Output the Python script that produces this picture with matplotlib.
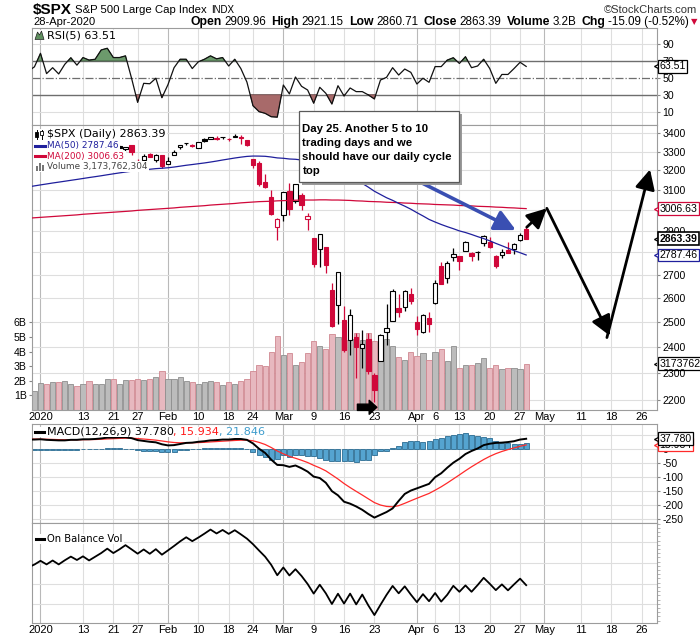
import numpy as np
import matplotlib.pyplot as plt
from matplotlib.patches import Rectangle, Polygon
from matplotlib.lines import Line2D
from matplotlib.transforms import blended_transform_factory as blend
from matplotlib.ticker import NullLocator

plt.rcParams['font.family'] = ['Liberation Sans', 'DejaVu Sans']

# ---- data: trading days from 2 Jan 2020 (index 0) to 28 Apr 2020 (index 80)
opens = [3244.67, 3226.36, 3217.55, 3241.86, 3238.59, 3266.03, 3281.81, 3271.13, 3285.35, 3282.27,
         3302.97, 3323.66, 3321.03, 3330.02, 3315.77, 3333.10, 3247.16, 3255.35, 3289.46, 3256.45,
         3282.33, 3235.66, 3280.61, 3324.91, 3344.92, 3335.54, 3318.28, 3365.87, 3370.50, 3365.90,
         3378.08, 3369.04, 3380.39, 3380.45, 3360.50, 3257.61, 3238.94, 3139.90, 3062.54, 2916.90,
         2974.28, 3096.46, 3045.75, 3075.70, 2954.20, 2863.89, 2813.48, 2825.60, 2630.86, 2569.99,
         2508.59, 2425.66, 2436.50, 2393.48, 2431.94, 2290.71, 2344.44, 2457.77, 2501.29, 2555.87,
         2558.98, 2614.69, 2498.08, 2458.54, 2514.92, 2578.28, 2738.65, 2685.00, 2776.99, 2782.46,
         2805.10, 2795.64, 2799.34, 2842.43, 2845.62, 2784.81, 2787.89, 2810.42, 2812.64, 2854.65,
         2909.96]
highs = [3258.14, 3246.15, 3246.84, 3244.91, 3267.07, 3275.58, 3282.99, 3288.13, 3294.25, 3298.66,
         3317.11, 3329.88, 3329.79, 3337.77, 3326.88, 3333.18, 3258.85, 3285.78, 3293.47, 3285.91,
         3282.33, 3268.44, 3306.92, 3337.58, 3347.96, 3341.42, 3352.26, 3375.63, 3381.47, 3385.09,
         3380.69, 3375.01, 3393.52, 3389.15, 3360.76, 3259.81, 3246.99, 3182.51, 3097.07, 2959.72,
         3090.96, 3136.72, 3130.97, 3083.04, 2985.93, 2863.89, 2882.59, 2825.60, 2660.95, 2711.33,
         2562.98, 2553.93, 2453.57, 2466.97, 2453.01, 2300.73, 2449.71, 2571.42, 2637.01, 2615.91,
         2631.80, 2641.39, 2522.75, 2533.22, 2538.18, 2676.85, 2756.89, 2760.75, 2818.57, 2782.46,
         2851.85, 2801.88, 2806.51, 2879.22, 2868.98, 2785.54, 2815.10, 2844.90, 2842.71, 2887.72,
         2921.15]
lows = [3235.53, 3222.34, 3214.64, 3232.43, 3236.67, 3263.67, 3260.86, 3268.43, 3277.19, 3280.69,
        3302.82, 3318.86, 3316.61, 3320.04, 3301.87, 3281.53, 3234.50, 3253.22, 3271.89, 3242.80,
        3214.68, 3235.66, 3280.61, 3313.75, 3334.39, 3322.12, 3317.77, 3352.72, 3369.72, 3360.52,
        3366.15, 3355.61, 3378.83, 3341.02, 3328.45, 3214.65, 3118.77, 3108.99, 2977.39, 2855.84,
        2945.19, 2976.63, 3034.38, 2999.83, 2901.54, 2734.43, 2734.00, 2707.22, 2478.86, 2492.37,
        2380.94, 2367.04, 2280.52, 2319.78, 2295.56, 2191.86, 2344.44, 2407.53, 2500.72, 2520.02,
        2545.28, 2571.15, 2447.49, 2455.79, 2459.96, 2574.57, 2657.67, 2663.30, 2762.36, 2721.17,
        2805.10, 2761.54, 2764.32, 2830.88, 2820.43, 2727.10, 2775.95, 2794.26, 2791.76, 2852.89,
        2860.71]
closes = [3257.85, 3234.85, 3246.28, 3237.18, 3253.05, 3274.70, 3265.35, 3288.13, 3283.15, 3289.29,
          3316.81, 3329.62, 3320.79, 3321.75, 3325.54, 3295.47, 3243.63, 3276.24, 3273.40, 3283.66,
          3225.52, 3248.92, 3297.59, 3334.69, 3345.78, 3327.71, 3352.09, 3357.75, 3379.45, 3373.94,
          3380.16, 3370.29, 3386.15, 3373.23, 3337.75, 3225.89, 3128.21, 3116.39, 2978.76, 2954.22,
          3090.23, 3003.37, 3130.12, 3023.94, 2972.37, 2746.56, 2882.23, 2741.38, 2480.64, 2711.02,
          2386.13, 2529.19, 2398.10, 2409.39, 2304.92, 2237.40, 2447.33, 2475.56, 2630.07, 2541.47,
          2626.65, 2584.59, 2470.50, 2526.90, 2488.65, 2663.68, 2659.41, 2749.98, 2789.82, 2761.63,
          2846.06, 2783.36, 2799.55, 2874.56, 2823.16, 2736.56, 2799.31, 2797.80, 2836.74, 2878.48,
          2863.39]
prev_close = 3230.78  # 31 Dec 2019
prev_prev_close = 3221.29  # 30 Dec 2019

# volume in billions, from 31 Dec 2019 (index -1)
volume = [1.3, 1.82, 1.75, 1.9, 1.9, 2.0, 1.8, 1.65, 1.78, 2.0, 1.8, 1.8, 2.15, 2.15, 1.8, 2.05,
          2.05, 2.1, 2.05, 2.1, 2.25, 2.7, 2.1, 2.15, 2.25, 2.0, 1.9, 1.75, 1.9, 2.0, 1.9, 1.7,
          1.9, 1.78, 2.0, 2.1, 2.7, 3.1, 3.0, 3.95, 5.1, 3.8, 3.9, 3.05, 3.3, 3.9, 4.7, 4.35,
          4.2, 5.2, 5.0, 4.8, 4.85, 5.25, 4.8, 5.3, 4.7, 5.0, 4.85, 4.35, 3.6, 3.4, 4.0, 3.7,
          3.9, 3.45, 4.0, 4.2, 3.35, 4.35, 2.9, 3.1, 3.1, 3.25, 3.55, 2.9, 3.1, 2.8, 2.9, 2.9,
          2.8, 3.17]

# indicator series from 30 Dec 2019 (index -2)
ma50 = [3115.3, 3120.2, 3125.2, 3130.0, 3134.9, 3139.4, 3144.0, 3148.7, 3153.3, 3158.1, 3163.0,
        3167.5, 3172.2, 3177.3, 3182.2, 3187.0, 3191.6, 3195.8, 3198.8, 3202.5, 3206.0, 3209.3,
        3211.3, 3213.9, 3217.7, 3222.3, 3227.0, 3230.9, 3235.1, 3239.2, 3244.0, 3249.2, 3254.9,
        3260.1, 3265.4, 3270.0, 3274.0, 3275.9, 3275.6, 3274.6, 3270.8, 3266.0, 3264.0, 3260.2,
        3258.7, 3254.8, 3249.7, 3240.2, 3233.0, 3223.1, 3208.3, 3197.9, 3180.4, 3166.3, 3149.4,
        3132.8, 3113.8, 3093.1, 3076.7, 3060.5, 3047.4, 3032.5, 3018.7, 3003.8, 2986.8, 2970.9,
        2954.1, 2941.5, 2929.8, 2919.3, 2909.6, 2899.2, 2891.6, 2882.3, 2872.3, 2863.1, 2852.6,
        2840.8, 2829.8, 2818.6, 2807.7, 2797.8, 2787.46]
ma200 = [2960, 2962, 2964, 2966, 2968, 2970, 2972, 2974, 2976, 2979, 2981, 2983, 2985, 2987, 2989,
         2991, 2993, 2995, 2998, 3000, 3002, 3004, 3006, 3008, 3010, 3013, 3015, 3017, 3019, 3021,
         3024, 3026, 3028, 3030, 3032, 3035, 3037, 3039, 3041, 3042, 3043, 3045, 3046, 3047, 3048,
         3049, 3049, 3049, 3050, 3050, 3049, 3049, 3048, 3047, 3045, 3044, 3042, 3041, 3040, 3038,
         3037, 3036, 3034, 3033, 3031, 3030, 3029, 3027, 3026, 3025, 3024, 3022, 3021, 3020, 3018,
         3017, 3016, 3014, 3013, 3011, 3010, 3008, 3006.63]
rsi5 = [58, 63, 79, 55, 62, 54.6, 66, 73.8, 65, 74, 71, 72, 83, 85, 74, 74, 76, 49.5, 21, 43.5,
        43, 49.5, 26.5, 42, 62, 72, 72, 61, 69, 72, 76, 72.5, 74, 64, 72, 61, 45, 17, 10, 8, 4,
        3.5, 41.5, 31, 51, 40, 35.6, 20, 38.8, 31.7, 19, 40.7, 28.5, 38, 33.7, 33.7, 29.8, 25,
        47.4, 50.6, 62, 53.3, 60.4, 56.5, 42.7, 49.5, 44.7, 63.3, 63.3, 71, 73.8, 67, 75, 62, 64,
        72, 61, 43.5, 54, 54, 61, 68.4, 63.51]
macd = [35, 35, 36, 34, 33, 32, 32, 34, 34, 36, 36, 37, 39, 42, 42, 43, 43, 40, 33, 30, 27, 25,
        18, 14, 15, 19, 23, 24, 27, 29, 32, 33, 35, 35, 37, 37, 34, 21, 2, -13, -37, -56, -57,
        -63, -58, -68, -80, -98, -103, -120, -150, -165, -188, -195, -205, -217, -232, -245,
        -235, -225, -212, -185, -160, -148, -140, -132, -124, -100, -86, -66, -48, -34, -17, -6,
        3, 15, 20, 23, 24, 26, 29, 35, 37.78]
signal = [37.0, 36.6, 36.5, 36.0, 35.4, 34.7, 34.2, 34.1, 34.1, 34.5, 34.8, 35.2, 36.0, 37.2,
          38.1, 39.1, 39.9, 39.9, 38.5, 36.8, 34.9, 32.9, 29.9, 26.7, 24.4, 23.3, 23.2, 23.4,
          24.1, 25.1, 26.5, 27.8, 29.2, 30.4, 31.7, 32.8, 33.0, 30.6, 24.9, 17.3, 6.5, -6.0,
          -16.2, -25.6, -32.1, -39.3, -47.4, -57.5, -66.6, -77.3, -91.8, -106.5, -122.8, -137.2,
          -150.8, -164.0, -177.6, -191.1, -199.9, -204.9, -206.3, -202.1, -193.7, -184.5,
          -175.6, -166.9, -158.3, -146.7, -134.5, -120.8, -106.3, -91.8, -76.9, -62.7, -49.5,
          -36.6, -25.3, -15.6, -7.7, -1.0, 5.0, 11.0, 15.93]
hist = [-1, -1, -1, -2, -2, -2, -2, -1, -1, 1, 1, 1, 2, 3, 3, 3, 2, 0, -4, -6, -7, -7, -9, -9,
        -8, -4, -1, 1, 2, 3, 4, 4, 4, 4, 4, 3, 1, -8, -19, -27, -37, -33, -19, -27, -21, -21,
        -25, -25, -30, -40, -43, -43, -43, -43, -45, -40, -40, -20, -5, -5, 6, 13, 27, 31, 29,
        28, 29, 36, 40, 47, 53, 54, 57, 52, 47, 45, 40, 29, 24, 22, 18, 20, 21.85]
obv = [100.00, 101.30, 103.12, 101.37, 103.27, 101.37, 103.37, 105.17, 103.52, 105.30, 103.30,
       105.10, 106.90, 109.05, 106.90, 108.70, 110.75, 108.70, 106.60, 108.65, 106.55, 108.80,
       106.10, 108.20, 110.35, 112.60, 114.60, 112.70, 114.45, 116.35, 118.35, 116.45, 118.15,
       116.25, 118.03, 116.03, 113.93, 111.23, 108.13, 105.13, 101.18, 96.08, 99.88, 95.98,
       99.03, 95.73, 91.83, 87.13, 91.48, 87.28, 82.08, 87.08, 82.28, 87.13, 81.88, 86.68,
       81.38, 76.68, 81.68, 86.53, 90.88, 87.28, 90.68, 86.68, 82.98, 86.88, 83.43, 87.43,
       83.23, 86.58, 90.93, 88.03, 91.13, 88.03, 91.28, 94.83, 91.93, 88.83, 91.63, 88.73,
       91.63, 94.43, 91.26]

tick_pos = [0, 7, 12, 16, 21, 26, 31, 35, 40, 45, 50, 55, 62, 65, 69, 74, 79, 83, 89, 94, 99]
tick_lab = ['2020', '13', '21', '27', 'Feb', '10', '18', '24', 'Mar', '9', '16', '23',
            'Apr', '6', '13', '20', '27', 'May', '11', '18', '26']
months = {'2020', 'Feb', 'Mar', 'Apr', 'May'}
price_ticks = [2200, 2300, 2400, 2500, 2600, 2700, 2800, 2900, 3000, 3100, 3200, 3300, 3400]
# 2800 and 3000 sit under the value tags on the right
price_labels = ['2200', '2300', '2400', '2500', '2600', '2700', '', '2900', '', '3100', '3200',
                '3300', '3400']

RED = '#d0083a'
NAVY = '#1f1f9c'
GRID = '#dedede'
MGRID = '#b9b9b9'

W, H = 700, 639
fig = plt.figure(figsize=(7, 6.39), dpi=100)


def fx(px):
    return px / W


def fy(py):
    return 1 - py / H


L, R = 32.3, 656.7


def panel(top, bottom):
    return fig.add_axes([fx(L), fy(bottom), (R - L) / W, (bottom - top) / H])


ax_rsi = panel(28.3, 124.5)
ax = panel(124.5, 410)
ax_macd = panel(424.3, 523.3)
ax_obv = panel(523.3, 622.7)

x_line = np.arange(len(ma50)) - 2
x_c = np.arange(len(closes))
x_v = np.arange(len(volume)) - 1


def style(a, grid_ax=None):
    a.set_xlim(-1.35, 101.5)
    for s in a.spines.values():
        s.set_color('#9c9c9c')
        s.set_linewidth(0.8)
    g = grid_ax if grid_ax is not None else a
    for t, lab in zip(tick_pos, tick_lab):
        g.axvline(t, color=MGRID if lab in months else GRID, lw=0.8, zorder=0)
    a.set_xticks(tick_pos)
    a.set_xticklabels(tick_lab)
    a.tick_params(axis='x', length=0, labelbottom=False, labelsize=8, pad=1.5)
    a.yaxis.tick_right()
    a.tick_params(axis='y', which='both', length=2.5, pad=1.5, labelsize=7.6, color='#888888')
    for lab in a.get_xticklabels():
        if lab.get_text() in months:
            lab.set_fontweight('bold')


# ---- RSI panel
style(ax_rsi)
ax_rsi.set_ylim(-5.2, 108.6)
ax_rsi.set_yticks([10, 30, 50, 70, 90])
for v in (10, 90):
    ax_rsi.axhline(v, color=GRID, lw=0.8, zorder=0)
ax_rsi.axhline(70, color='#6e6e6e', lw=1.0, zorder=1)
ax_rsi.axhline(30, color='#6e6e6e', lw=1.0, zorder=1)
ax_rsi.axhline(50, color='#6e6e6e', lw=0.9, ls='-.', zorder=1)
r = np.array(rsi5)
ax_rsi.fill_between(x_line, r, 70, where=r > 70, interpolate=True, color='#6c9a6c',
                    edgecolor='#2f4f2f', lw=0.5, zorder=2)
ax_rsi.fill_between(x_line, r, 30, where=r < 30, interpolate=True, color='#a86a6a',
                    edgecolor='#4f2f2f', lw=0.5, zorder=2)
ax_rsi.plot(x_line, r, color='#111111', lw=0.9, zorder=3)

# ---- price panel with volume underneath
ax_vol = ax.twinx()
ax.set_zorder(2)
ax_vol.set_zorder(1)
ax.patch.set_visible(False)
ax_vol.patch.set_visible(True)
ax_vol.patch.set_facecolor('white')
style(ax, grid_ax=ax_vol)
ax_vol.set_xlim(-1.35, 101.5)
ax.set_yscale('log')
ax.set_ylim(2164.4, 3449)
ax.yaxis.set_minor_locator(NullLocator())
ax.set_yticks(price_ticks)
ax.set_yticklabels(price_labels)
ax.yaxis.tick_right()
ax.tick_params(axis='x', labelbottom=True)
hl = blend(ax_vol.transAxes, ax.transData)
for p in price_ticks:
    ax_vol.plot([0, 1], [p, p], transform=hl, color=GRID, lw=0.8, zorder=0)

ax_vol.set_ylim(0, 19.55)
ax_vol.yaxis.tick_left()
ax_vol.set_yticks([1, 2, 3, 4, 5, 6])
ax_vol.set_yticklabels(['1B', '2B', '3B', '4B', '5B', '6B'])
ax_vol.tick_params(axis='y', length=2.5, pad=1.5, labelsize=7.6, color='#888888')
for s in ax_vol.spines.values():
    s.set_visible(False)

prevs = [prev_close] + closes[:-1]
vol_prev = [prev_prev_close] + prevs
vol_close = [prev_close] + closes
vol_up = [c >= p for c, p in zip(vol_close, vol_prev)]
ax_vol.bar(x_v, volume, width=0.86,
           color=['#bcbcbc' if u else '#e7b8bf' for u in vol_up],
           edgecolor=['#8e8e8e' if u else '#d08891' for u in vol_up], lw=0.6, zorder=2)

up_day = [c >= p for c, p in zip(closes, prevs)]
ccol = ['black' if u else RED for u in up_day]
ax.vlines(x_c, lows, highs, colors=ccol, lw=0.9, zorder=3)
bottoms = [min(o, c) for o, c in zip(opens, closes)]
heights = [max(abs(c - o), 0.8) for o, c in zip(opens, closes)]
faces = ['white' if c > o else col for o, c, col in zip(opens, closes, ccol)]
ax.bar(x_c, heights, bottom=bottoms, width=0.72, color=faces, edgecolor=ccol, lw=0.8, zorder=4)

ax.plot(x_line, ma200, color=RED, lw=0.9, zorder=5)
ax.plot(x_line, ma50, color=NAVY, lw=0.9, zorder=5)

# hand-drawn arrows
arr = dict(arrowstyle='-|>,head_length=0.7,head_width=0.35', color='#3a4fb2', lw=2.6,
           mutation_scale=18, shrinkA=0, shrinkB=0)
ax.annotate('', xy=(78.3, 2903), xytext=(62.2, 3145), arrowprops=arr, zorder=6)
blk = dict(arrowstyle='-|>,head_length=0.8,head_width=0.4', color='black', lw=2.0,
           mutation_scale=15, shrinkA=0, shrinkB=0)
ax.annotate('', xy=(83.4, 3008), xytext=(80.1, 2917), arrowprops=blk, zorder=6)
ax.annotate('', xy=(93.8, 2443), xytext=(83.4, 3008), arrowprops=blk, zorder=6)
ax.annotate('', xy=(100.4, 3205), xytext=(93.3, 2436), arrowprops=blk, zorder=6)
ax.annotate('', xy=(55.4, 2174), xytext=(52.2, 2174),
            arrowprops=dict(arrowstyle='simple,head_length=0.55,head_width=1.0,tail_width=0.45',
                            fc='black', ec='black', mutation_scale=10, shrinkA=0, shrinkB=0),
            zorder=6)

# ---- MACD panel
style(ax_macd)
ax_macd.set_ylim(-265.4, 89.7)
mt = [50, 0, -50, -100, -150, -200, -250]
ax_macd.set_yticks(mt)
ax_macd.set_yticklabels(['', '0', '-50', '-100', '-150', '-200', '-250'])
for v in mt:
    ax_macd.axhline(v, color=GRID, lw=0.8, zorder=0)
ax_macd.bar(x_line, hist, width=0.82, color='#55a4d0', edgecolor='#2b6c92', lw=0.6, zorder=2)
ax_macd.plot(x_line, signal, color='#ff2a2a', lw=0.9, zorder=3)
ax_macd.plot(x_line, macd, color='black', lw=1.4, zorder=4)

# ---- On Balance Volume panel
style(ax_obv)
ax_obv.set_ylim(72.96, 121.4)
ax_obv.set_yticks([])
ax_obv.set_yticks(np.arange(74, 121.4, 2.05), minor=True)
ax_obv.tick_params(axis='y', which='minor', length=2, color='#aaaaaa')
for v in (81.9, 91.8, 101.9, 112.2):
    ax_obv.axhline(v, color=GRID, lw=0.8, zorder=0)
ax_obv.plot(x_line, obv, color='black', lw=1.3, zorder=3)
ax_obv.tick_params(axis='x', labelbottom=True, pad=2)


# ---- right-hand value tags
def rtag(a, y, s, ec, bold=False):
    tr = blend(a.transAxes, a.transData)
    a.plot([1.0], [y], marker='<', ms=5, mfc='white', mec=ec, mew=0.9, transform=tr,
           clip_on=False, zorder=29)
    a.text(1.0045, y, s, transform=tr, fontsize=7.6, va='center', ha='left',
           fontweight='bold' if bold else 'normal', clip_on=False, zorder=30,
           bbox=dict(boxstyle='square,pad=0.13', fc='white', ec=ec, lw=1.2 if bold else 0.9))


rtag(ax_rsi, rsi5[-1], '63.51', 'black')
rtag(ax, ma200[-1], '3006.63', RED)
rtag(ax, closes[-1], '2863.39', 'black', bold=True)
rtag(ax, ma50[-1], '2787.46', NAVY)
rtag(ax_vol, volume[-1], '3173762', 'black')
rtag(ax_macd, signal[-1], '15.934', '#ff2a2a')
rtag(ax_macd, macd[-1], '37.780', 'black')

# ---- text rows
renderer = fig.canvas.get_renderer()


def text_row(x0, y, pieces, align='left', zorder=5):
    arts, x = [], x0
    for s, gap, kw in pieces:
        x += gap
        t = fig.text(fx(x), fy(y), s, va='center', ha='left', zorder=zorder, **kw)
        x += t.get_window_extent(renderer).width
        arts.append(t)
    if align == 'right':
        d = x - x0
        for t in arts:
            px, py = t.get_position()
            t.set_position((px - d / W, py))
    return x


B = dict(fontweight='bold')
text_row(33, 10, [('$SPX', 0, dict(fontsize=11, fontweight='bold')),
                  ('S&P 500 Large Cap Index', 3, dict(fontsize=8.2)),
                  ('INDX', 5, dict(fontsize=7))])
text_row(697, 10, [('\u00a9StockCharts.com', 0, dict(fontsize=8, color='#333333'))], align='right')
text_row(33, 22, [('28-Apr-2020', 0, dict(fontsize=8))])
text_row(697, 22, [('Open', 0, dict(fontsize=8.8, **B)), ('2909.96', 2.5, dict(fontsize=8.4)),
                   ('High', 5.5, dict(fontsize=8.8, **B)), ('2921.15', 2.5, dict(fontsize=8.4)),
                   ('Low', 5.5, dict(fontsize=8.8, **B)), ('2860.71', 2.5, dict(fontsize=8.4)),
                   ('Close', 5.5, dict(fontsize=8.8, **B)), ('2863.39', 2.5, dict(fontsize=8.4)),
                   ('Volume', 5.5, dict(fontsize=8.8, **B)), ('3.2B', 2.5, dict(fontsize=8.4)),
                   ('Chg', 5.5, dict(fontsize=8.8, **B)),
                   ('-15.09 (-0.52%)', 2.5, dict(fontsize=8.4)),
                   ('\u25bc', 1.5, dict(fontsize=6, color=RED, family='DejaVu Sans'))],
         align='right')

DJ = dict(family='DejaVu Sans')


def legend_line(y, pieces, h=10.5, x0=46.5):
    xe = text_row(x0, y, [(s, g, dict(DJ, **kw)) for s, g, kw in pieces], zorder=6)
    fig.add_artist(Rectangle((fx(33), fy(y + h / 2)), (xe + 2 - 33) / W, h / H,
                             transform=fig.transFigure, fc='white', ec='none', zorder=4))


def icon_line(x1, x2, y, color, lw=2.2):
    fig.add_artist(Line2D([fx(x1), fx(x2)], [fy(y), fy(y)], transform=fig.transFigure,
                          color=color, lw=lw, zorder=7))


legend_line(35, [('RSI(5) 63.51', 0, dict(fontsize=8))], h=10)
fig.add_artist(Polygon([(fx(35), fy(39.5)), (fx(37.5), fy(32)), (fx(39.5), fy(35)),
                        (fx(41.5), fy(31)), (fx(44), fy(39.5))], closed=True,
                       transform=fig.transFigure, fc='#5f8f5f', ec='#222222', lw=0.5, zorder=7))

legend_line(134.3, [('$SPX (Daily) 2863.39', 0, dict(fontsize=8))], h=11)
for cx, y1, y2, b1, b2, fc in [(36.5, 129.5, 139, 131.5, 136.5, 'black'),
                                (41.5, 129.5, 139, 131, 135, 'white')]:
    fig.add_artist(Line2D([fx(cx), fx(cx)], [fy(y1), fy(y2)], transform=fig.transFigure,
                          color='black', lw=0.7, zorder=7))
    fig.add_artist(Rectangle((fx(cx - 1.5), fy(b2)), 3 / W, (b2 - b1) / H,
                             transform=fig.transFigure, fc=fc, ec='black', lw=0.6, zorder=8))
legend_line(145.7, [('MA(50) 2787.46', 0, dict(fontsize=6.4, color=NAVY))])
icon_line(35, 44.5, 145.7, NAVY)
legend_line(156, [('MA(200) 3006.63', 0, dict(fontsize=6.4, color=RED))])
icon_line(35, 44.5, 156, RED)
legend_line(166.7, [('Volume 3,173,762,304', 0, dict(fontsize=6.4, color='#444444'))])
for bx, bh in [(35.5, 5), (38.5, 8), (41.5, 6)]:
    fig.add_artist(Rectangle((fx(bx), fy(171)), 2.3 / W, bh / H, transform=fig.transFigure,
                             fc='#777777', ec='none', zorder=7))

legend_line(431.7, [('MACD(12,26,9) 37.780', 0, dict(fontsize=8)),
                    (', 15.934', 0, dict(fontsize=8, color='#ff1a1a')),
                    (', 21.846', 0, dict(fontsize=8, color='#3d9ccc'))], h=10)
icon_line(35, 44, 431.7, 'black')
legend_line(539, [('On Balance Vol', 0, dict(fontsize=7.2))], h=10)
icon_line(36, 43.5, 539, 'black')

# ---- comment box
fig.add_artist(Rectangle((fx(302), fy(185)), 160 / W, 71 / H, transform=fig.transFigure,
                         fc='#9a9a9a', ec='none', zorder=8))
fig.add_artist(Rectangle((fx(299), fy(182)), 160 / W, 71 / H, transform=fig.transFigure,
                         fc='white', ec='#5a5a5a', lw=0.9, zorder=9))
note = ['Day 25. Another 5 to 10', 'trading days and we', 'should have our daily cycle', 'top']
for k, line in enumerate(note):
    fig.text(fx(302.5), fy(129.5 + 14 * k), line, fontsize=8.2, fontweight='bold',
             va='center', ha='left', zorder=10)

fig.savefig('out.png', dpi=100)
